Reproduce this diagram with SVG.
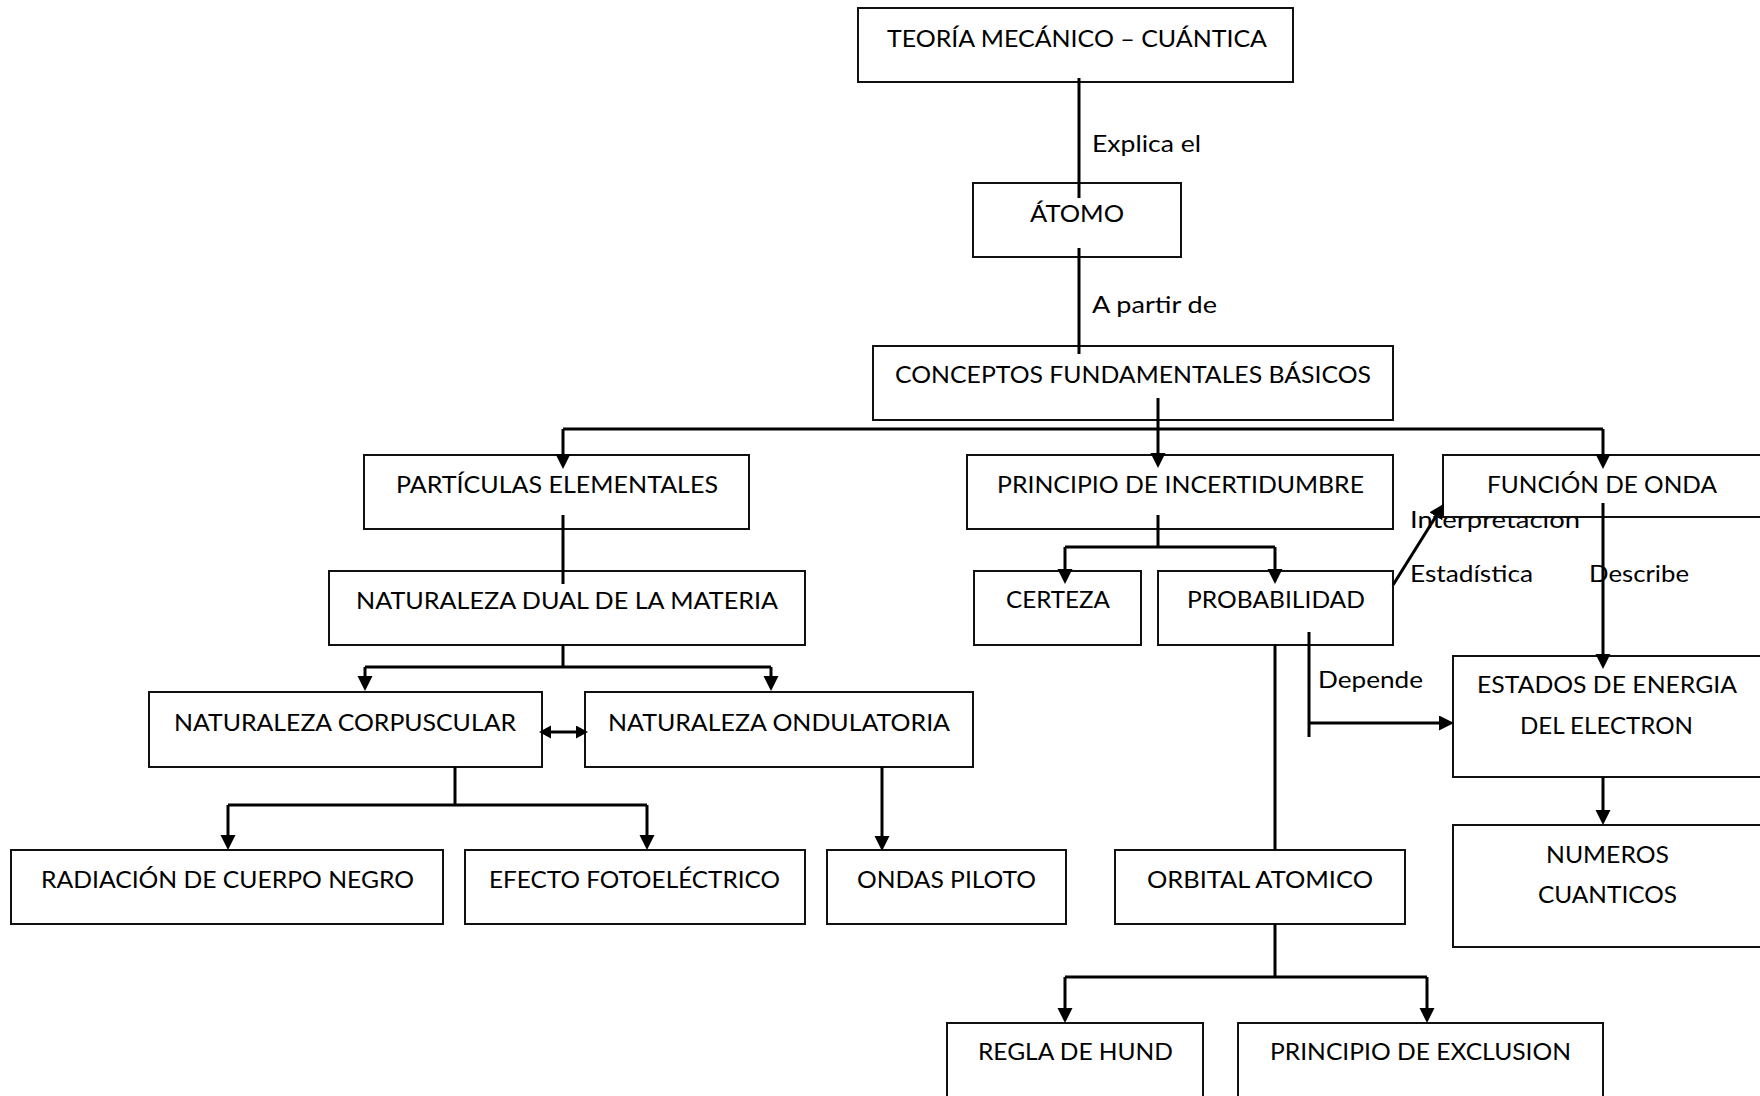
<svg xmlns="http://www.w3.org/2000/svg" width="1760" height="1096" viewBox="0 0 1760 1096">
<style>
.box{fill:#fff;stroke:#111;stroke-width:2}
.t{font-family:Lato,"Open Sans","Liberation Sans",sans-serif;font-size:24px;fill:#000}
.c{fill:none;stroke:#000;stroke-width:3}
.a{marker-end:url(#ah)}
</style>
<defs>
<marker id="ah" markerUnits="userSpaceOnUse" markerWidth="16" markerHeight="16" refX="4" refY="7.5" orient="auto">
<path d="M0,0 L15,7.5 L0,15 z" fill="#000"/>
</marker>
<marker id="ahs" markerUnits="userSpaceOnUse" markerWidth="14" markerHeight="14" refX="3" refY="6.5" orient="auto-start-reverse">
<path d="M0,0 L12,6.5 L0,13 z" fill="#000"/>
</marker>
</defs>
<rect width="1760" height="1096" fill="#fff"/>

<g id="label-interpretacion">
<text class="t" x="1410" y="528" textLength="170" lengthAdjust="spacingAndGlyphs">Interpretación</text>
</g>

<g id="nodes">
<g id="n-teoria"><rect class="box" x="858" y="8" width="435" height="74"/><text class="t" x="887" y="47" textLength="380" lengthAdjust="spacingAndGlyphs">TEORÍA MECÁNICO – CUÁNTICA</text></g>
<g id="n-atomo"><rect class="box" x="973" y="183" width="208" height="74"/><text class="t" x="1030" y="222" textLength="94" lengthAdjust="spacingAndGlyphs">ÁTOMO</text></g>
<g id="n-conceptos"><rect class="box" x="873" y="346" width="520" height="74"/><text class="t" x="895" y="383" textLength="476" lengthAdjust="spacingAndGlyphs">CONCEPTOS FUNDAMENTALES BÁSICOS</text></g>
<g id="n-particulas"><rect class="box" x="364" y="455" width="385" height="74"/><text class="t" x="396" y="493" textLength="322" lengthAdjust="spacingAndGlyphs">PARTÍCULAS ELEMENTALES</text></g>
<g id="n-incertidumbre"><rect class="box" x="967" y="455" width="426" height="74"/><text class="t" x="997" y="493" textLength="367" lengthAdjust="spacingAndGlyphs">PRINCIPIO DE INCERTIDUMBRE</text></g>
<g id="n-funcion"><rect class="box" x="1443" y="455" width="330" height="62"/><text class="t" x="1487" y="493" textLength="230" lengthAdjust="spacingAndGlyphs">FUNCIÓN DE ONDA</text></g>
<g id="n-dual"><rect class="box" x="329" y="571" width="476" height="74"/><text class="t" x="356" y="609" textLength="422" lengthAdjust="spacingAndGlyphs">NATURALEZA DUAL DE LA MATERIA</text></g>
<g id="n-certeza"><rect class="box" x="974" y="571" width="167" height="74"/><text class="t" x="1006" y="608" textLength="104" lengthAdjust="spacingAndGlyphs">CERTEZA</text></g>
<g id="n-probabilidad"><rect class="box" x="1158" y="571" width="235" height="74"/><text class="t" x="1187" y="608" textLength="178" lengthAdjust="spacingAndGlyphs">PROBABILIDAD</text></g>
<g id="n-corpuscular"><rect class="box" x="149" y="692" width="393" height="75"/><text class="t" x="174" y="731" textLength="342" lengthAdjust="spacingAndGlyphs">NATURALEZA CORPUSCULAR</text></g>
<g id="n-ondulatoria"><rect class="box" x="585" y="692" width="388" height="75"/><text class="t" x="608" y="731" textLength="342" lengthAdjust="spacingAndGlyphs">NATURALEZA ONDULATORIA</text></g>
<g id="n-estados"><rect class="box" x="1453" y="656" width="320" height="121"/><text class="t" x="1477" y="693" textLength="260" lengthAdjust="spacingAndGlyphs">ESTADOS DE ENERGIA</text><text class="t" x="1520" y="734" textLength="173" lengthAdjust="spacingAndGlyphs">DEL ELECTRON</text></g>
<g id="n-numeros"><rect class="box" x="1453" y="825" width="320" height="122"/><text class="t" x="1546" y="863" textLength="123" lengthAdjust="spacingAndGlyphs">NUMEROS</text><text class="t" x="1538" y="903" textLength="139" lengthAdjust="spacingAndGlyphs">CUANTICOS</text></g>
<g id="n-radiacion"><rect class="box" x="11" y="850" width="432" height="74"/><text class="t" x="41" y="888" textLength="373" lengthAdjust="spacingAndGlyphs">RADIACIÓN DE CUERPO NEGRO</text></g>
<g id="n-efecto"><rect class="box" x="465" y="850" width="340" height="74"/><text class="t" x="489" y="888" textLength="291" lengthAdjust="spacingAndGlyphs">EFECTO FOTOELÉCTRICO</text></g>
<g id="n-ondas"><rect class="box" x="827" y="850" width="239" height="74"/><text class="t" x="857" y="888" textLength="179" lengthAdjust="spacingAndGlyphs">ONDAS PILOTO</text></g>
<g id="n-orbital"><rect class="box" x="1115" y="850" width="290" height="74"/><text class="t" x="1147" y="888" textLength="226" lengthAdjust="spacingAndGlyphs">ORBITAL ATOMICO</text></g>
<g id="n-hund"><rect class="box" x="947" y="1023" width="256" height="80"/><text class="t" x="978" y="1060" textLength="195" lengthAdjust="spacingAndGlyphs">REGLA DE HUND</text></g>
<g id="n-exclusion"><rect class="box" x="1238" y="1023" width="365" height="80"/><text class="t" x="1270" y="1060" textLength="301" lengthAdjust="spacingAndGlyphs">PRINCIPIO DE EXCLUSION</text></g>
</g>

<g id="connectors">
<path class="c" d="M1079,78 V198"/>
<path class="c" d="M1079,248 V354"/>
<path class="c" d="M1158,398 V457" marker-end="url(#ah)"/>
<path class="c" d="M563,429 H1603"/>
<path class="c a" d="M563,429 V458"/>
<path class="c a" d="M1603,429 V458"/>
<path class="c" d="M563,515 V584"/>
<path class="c" d="M1158,515 V547"/>
<path class="c" d="M1065,547 H1275"/>
<path class="c a" d="M1065,547 V573"/>
<path class="c a" d="M1275,547 V573"/>
<path class="c" d="M563,645 V667"/>
<path class="c" d="M365,667 H771"/>
<path class="c a" d="M365,667 V680"/>
<path class="c a" d="M771,667 V680"/>
<path class="c" d="M548,732 H579" marker-start="url(#ahs)" marker-end="url(#ahs)"/>
<path class="c" d="M455,767 V805"/>
<path class="c" d="M228,805 H647"/>
<path class="c a" d="M228,805 V839"/>
<path class="c a" d="M647,805 V839"/>
<path class="c a" d="M882,767 V840"/>
<path class="c" d="M1275,644 V850"/>
<path class="c" d="M1309,632 V737"/>
<path class="c a" d="M1309,723 H1443"/>
<path class="c a" d="M1393,585 L1438,513"/>
<path class="c a" d="M1603,503 V658"/>
<path class="c a" d="M1603,777 V814"/>
<path class="c" d="M1275,924 V977"/>
<path class="c" d="M1065,977 H1427"/>
<path class="c a" d="M1065,977 V1012"/>
<path class="c a" d="M1427,977 V1012"/>
</g>

<g id="edge-labels">
<text class="t" x="1092" y="152" textLength="109" lengthAdjust="spacingAndGlyphs">Explica el</text>
<text class="t" x="1092" y="313" textLength="125" lengthAdjust="spacingAndGlyphs">A partir de</text>
<text class="t" x="1410" y="582" textLength="123" lengthAdjust="spacingAndGlyphs">Estadística</text>
<text class="t" x="1589" y="582" textLength="100" lengthAdjust="spacingAndGlyphs">Describe</text>
<text class="t" x="1318" y="688" textLength="105" lengthAdjust="spacingAndGlyphs">Depende</text>
</g>
</svg>
